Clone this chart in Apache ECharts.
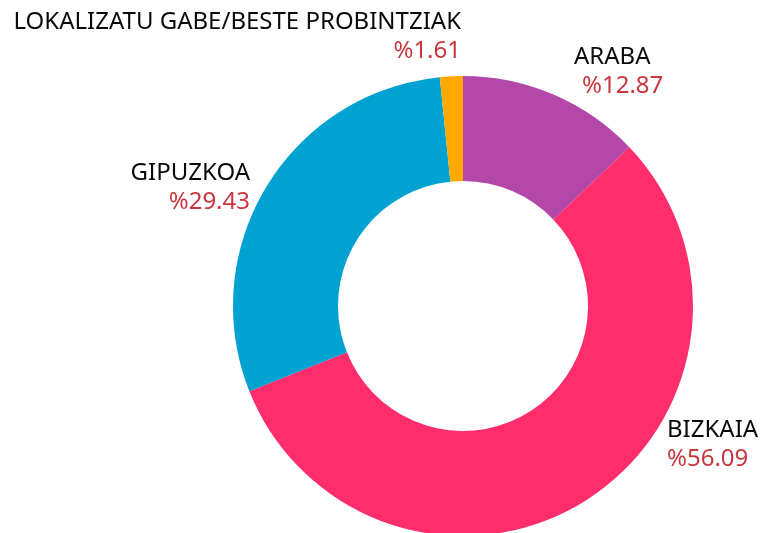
<!DOCTYPE html>
<html>
<head>
<meta charset="utf-8">
<script src="https://cdn.jsdelivr.net/npm/echarts@6/dist/echarts.min.js"></script>
<style>
  html, body { margin: 0; padding: 0; background: #fff; }
  #chart { width: 760px; height: 533px; }
</style>
</head>
<body>
<div id="chart"></div>
<script>
// data
const names = ['ARABA', 'BIZKAIA', 'GIPUZKOA', 'LOKALIZATU GABE/BESTE PROBINTZIAK']
const shares = [12.87, 56.09, 29.43, 1.61]
const colors = ['#b348a8', '#ff2d6b', '#00a2d1', '#ffa800']

// where each label sits (x, y of anchor, alignment)
const labelPlace = [
  { x: 574, y: 43, align: 'left' },
  { x: 667, y: 416, align: 'left' },
  { x: 250, y: 159, align: 'right' },
  { x: 461, y: 8, align: 'right' }
]

const chart = echarts.init(document.getElementById('chart'))

const option = {
  animation: false,
  series: [
    {
      type: 'pie',
      center: [463, 306],
      radius: [125, 230],
      startAngle: 90,
      clockwise: true,
      data: names.map((n, i) => ({
        name: n,
        value: shares[i],
        itemStyle: { color: colors[i] },
        label: i === 0 ? { rich: { p: { padding: [0, 0, 0, 8] } } } : {}
      })),
      label: {
        show: true,
        position: 'outside',
        overflow: 'none',
        formatter: p => '{n|' + p.name + '}\n{p|%' + shares[p.dataIndex].toFixed(2) + '}',
        rich: {
          n: { fontFamily: 'Noto Sans', fontSize: 24, color: '#0a0a0a', lineHeight: 29 },
          p: { fontFamily: 'Noto Sans', fontSize: 24, color: '#c8373e', lineHeight: 29 }
        }
      },
      labelLine: { show: false },
      labelLayout: params => {
        const lp = labelPlace[params.dataIndex]
        return { x: lp.x, y: lp.y, align: lp.align, verticalAlign: 'top' }
      },
      emphasis: { disabled: true }
    }
  ]
}

chart.setOption(option)
</script>
</body>
</html>
